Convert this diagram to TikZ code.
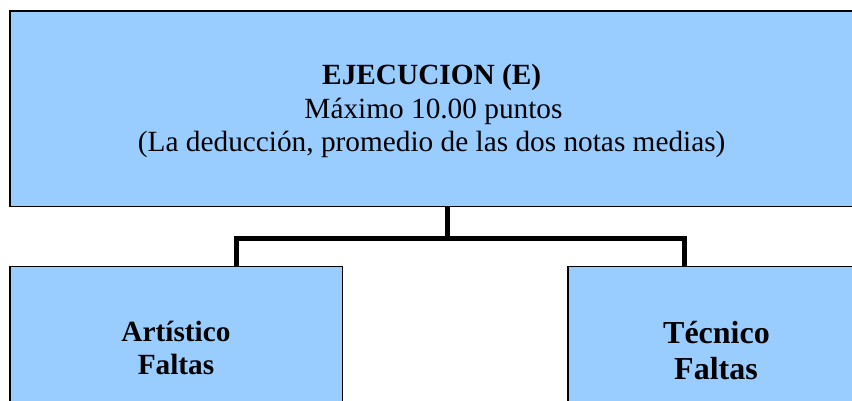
\documentclass[tikz,border=0pt]{standalone}
\usepackage{fontspec}
\setmainfont{Liberation Serif}
\definecolor{boxblue}{HTML}{99CCFF}
\begin{document}
\begin{tikzpicture}[x=1pt,y=1pt,
  box/.style={draw=black,line width=1.8pt,fill=boxblue,anchor=north west,inner sep=0pt,outer sep=0pt},
  conn/.style={line width=5pt,line join=miter,line cap=butt},
  toptext/.style={anchor=base,inner sep=0pt,font=\fontsize{29.3}{33.5}\selectfont},
  lefttext/.style={anchor=base,inner sep=0pt,font=\fontsize{29.3}{33}\selectfont\bfseries},
  righttext/.style={anchor=base,inner sep=0pt,font=\fontsize{32}{36}\selectfont\bfseries}]
\useasboundingbox (0,0) rectangle (852,401);
\clip (0,0) rectangle (852,401);
% boxes
\node[box,minimum width=874pt,minimum height=195.8pt] (top) at (10,390.3) {};
\node[box,minimum width=332.5pt,minimum height=160pt] (lft) at (10,134.5) {};
\node[box,minimum width=340pt,minimum height=160pt] (rgt) at (568,134.5) {};
% texts
\node[toptext,font=\fontsize{29.3}{33.5}\selectfont\bfseries] (t1) at (431.7,316) {EJECUCION (E)};
\node[toptext] (t2) at (433.5,282.5) {Máximo 10.00 puntos};
\node[toptext] (t3) at (431.7,249) {(La deducción, promedio de las dos notas medias)};
\node[lefttext] (l1) at (176,59) {Artístico};
\node[lefttext] (l2) at (176,26) {Faltas};
\node[righttext] (r1) at (716.5,57) {Técnico};
\node[righttext] (r2) at (716,21) {Faltas};
% connectors
\coordinate (hub) at (447,162);
\coordinate (la) at (236.5,162);
\coordinate (ra) at (684,162);
\draw[conn] (top.south -| hub) -- (hub);
\draw[conn] (lft.north -| la) -- (la) -- (ra) -- (rgt.north -| ra);
\end{tikzpicture}
\end{document}
